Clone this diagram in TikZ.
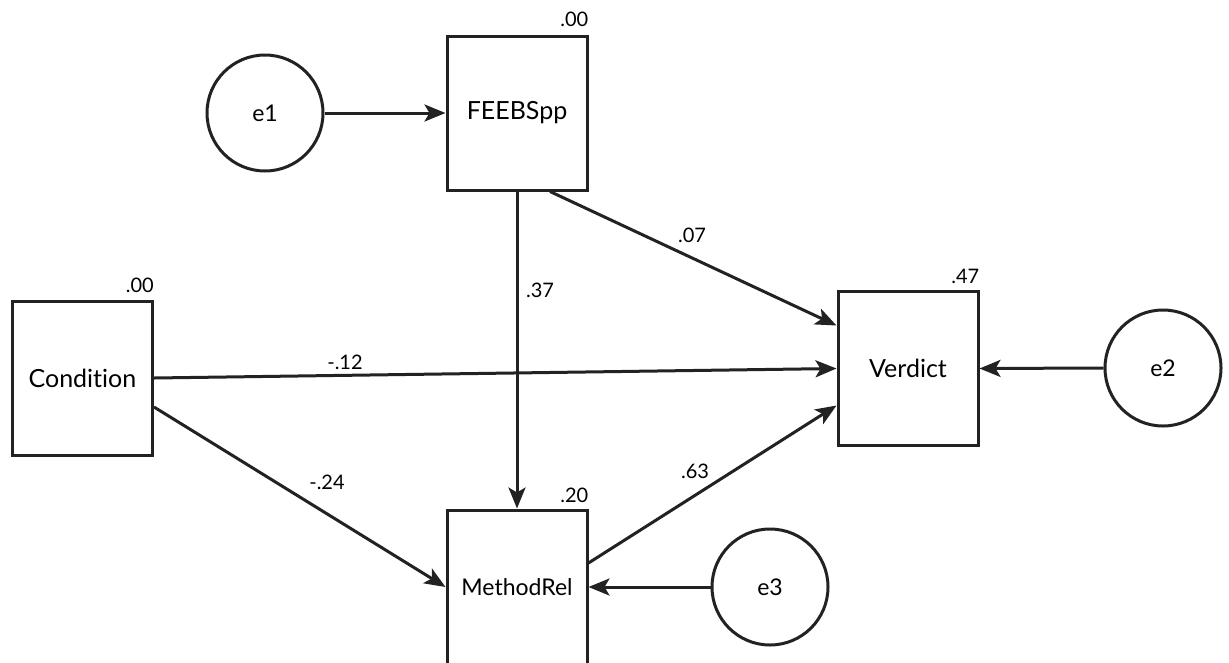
\documentclass[tikz,border=0pt]{standalone}
\usepackage{fontspec}
\setmainfont{Lato}[Ligatures={NoCommon}]
\usetikzlibrary{arrows.meta,calc}
\definecolor{ink}{HTML}{222222}
\tikzset{
  var/.style={draw=ink, line width=3pt, rectangle, minimum width=140pt, minimum height=154pt,
              inner sep=0pt, font=\fontsize{25}{28}\selectfont},
  err/.style={draw=ink, line width=3pt, circle, minimum size=116pt, inner sep=0pt,
              font=\fontsize{23}{26}\selectfont},
  regpath/.style={draw=ink, line width=3pt, -{Stealth[length=21pt,width=17pt,inset=5pt]}},
  coef/.style={font=\fontsize{20}{23}\selectfont, inner sep=0pt},
  rsq/.style={font=\fontsize{20}{23}\selectfont, inner sep=0pt, anchor=base east}
}
\begin{document}
\begin{tikzpicture}[x=1pt,y=-1pt]
\useasboundingbox (0,0) rectangle (1229,662);

% observed variables
\node[var] (feeb)    at (517,113)   {FEEBSpp};
\node[var] (cond)    at (82.5,378)  {Condition};
\node[var] (verdict) at (908,368.5) {Verdict};
\node[var, font=\fontsize{23}{26}\selectfont] (method) at (517,587) {MethodRel};

% error terms
\node[err] (e1) at (265,113)  {e1};
\node[err] (e2) at (1163,368) {e2};
\node[err] (e3) at (770,587)  {e3};

% squared multiple correlations
\node[rsq] (r_feeb)    at ($(feeb.north east)+(0,-8)$)    {.00};
\node[rsq] (r_cond)    at ($(cond.north east)+(0,-7)$)    {.00};
\node[rsq] (r_verdict) at ($(verdict.north east)+(0,-7)$) {.47};
\node[rsq] (r_method)  at ($(method.north east)+(0,-6)$)  {.20};

% regression paths
\draw[regpath] (e1.east) -- (feeb.west);
\draw[regpath] (e2.west) -- (verdict.east);
\draw[regpath] (e3.west) -- (method.east);
\draw[regpath] (feeb.south) -- (method.north);
\draw[regpath] ([xshift=33pt]feeb.south) -- ($(verdict.west)+(0,-43)$);
\draw[regpath] (cond.east) -- (verdict.west);
\draw[regpath] ($(cond.east)+(0,29)$) -- (method.west);
\draw[regpath] ($(method.east)+(0,-24)$) -- ($(verdict.west)+(0,37)$);

% path coefficients
\node[coef] (c_fv) at (692,235) {.07};
\node[coef] (c_fm) at (540,290) {.37};
\node[coef] (c_cv) at (345,362) {-.12};
\node[coef] (c_cm) at (327,482) {-.24};
\node[coef] (c_mv) at (695,471) {.63};
\end{tikzpicture}
\end{document}
